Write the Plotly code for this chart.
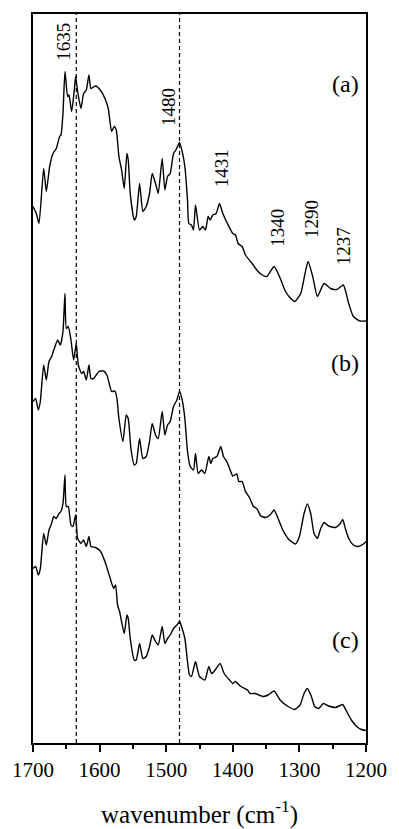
import plotly.graph_objects as go

# FTIR absorbance spectra, stacked with vertical offsets (a.u.)
wn_a = [1700, 1695, 1691, 1684, 1680, 1675, 1670, 1665, 1660, 1658, 1655, 1652, 1648, 1646,
        1642, 1638, 1636, 1633, 1628, 1624, 1620, 1616, 1613, 1606, 1599, 1592, 1587, 1582,
        1578, 1575, 1571, 1567, 1563, 1559, 1557, 1554, 1548, 1545, 1540, 1535, 1530, 1525,
        1521, 1516, 1512, 1506, 1502, 1498, 1494, 1489, 1485, 1480, 1476, 1472, 1468, 1466,
        1462, 1459, 1456, 1450, 1445, 1441, 1437, 1434, 1430, 1425, 1420, 1415, 1408, 1400,
        1396, 1392, 1386, 1381, 1371, 1364, 1356, 1349, 1338, 1329, 1322, 1315, 1307, 1298,
        1292, 1287, 1280, 1273, 1263, 1253, 1244, 1234, 1226, 1219, 1209, 1200]
abs_a = [1.073, 1.059, 1.039, 1.149, 1.103, 1.153, 1.179, 1.189, 1.213, 1.216, 1.259, 1.343,
         1.293, 1.296, 1.263, 1.306, 1.333, 1.303, 1.269, 1.299, 1.306, 1.336, 1.309, 1.314,
         1.306, 1.289, 1.269, 1.223, 1.233, 1.226, 1.173, 1.146, 1.109, 1.179, 1.166, 1.099,
         1.046, 1.053, 1.119, 1.063, 1.073, 1.099, 1.139, 1.119, 1.099, 1.169, 1.106, 1.133,
         1.139, 1.179, 1.187, 1.201, 1.183, 1.153, 1.086, 1.039, 1.036, 1.026, 1.076, 1.026,
         1.033, 1.026, 1.053, 1.046, 1.056, 1.059, 1.079, 1.059, 1.039, 1.019, 1.016, 0.999,
         0.993, 0.976, 0.959, 0.946, 0.936, 0.933, 0.953, 0.930, 0.906, 0.892, 0.883, 0.899,
         0.936, 0.963, 0.933, 0.893, 0.919, 0.909, 0.907, 0.916, 0.879, 0.853, 0.844, 0.844]

wn_b = [1700, 1696, 1692, 1689, 1684, 1680, 1676, 1672, 1668, 1663, 1659, 1655, 1652, 1650,
        1647, 1643, 1639, 1635, 1632, 1627, 1624, 1620, 1616, 1613, 1609, 1601, 1594, 1589,
        1582, 1577, 1574, 1571, 1565, 1560, 1557, 1553, 1548, 1545, 1540, 1535, 1530, 1525,
        1521, 1516, 1512, 1506, 1502, 1498, 1494, 1489, 1484, 1480, 1476, 1472, 1468, 1464,
        1459, 1456, 1452, 1447, 1442, 1436, 1433, 1430, 1424, 1418, 1414, 1409, 1404, 1400,
        1394, 1391, 1386, 1381, 1375, 1369, 1364, 1358, 1351, 1344, 1338, 1332, 1325, 1315,
        1306, 1300, 1293, 1288, 1283, 1278, 1273, 1268, 1263, 1256, 1246, 1239, 1235, 1231,
        1226, 1219, 1212, 1204, 1200]
abs_b = [0.683, 0.689, 0.666, 0.683, 0.756, 0.726, 0.763, 0.773, 0.789, 0.806, 0.796, 0.823,
         0.899, 0.829, 0.833, 0.806, 0.766, 0.799, 0.756, 0.739, 0.743, 0.726, 0.756, 0.729,
         0.729, 0.743, 0.744, 0.736, 0.703, 0.704, 0.689, 0.649, 0.603, 0.656, 0.649, 0.589,
         0.556, 0.559, 0.609, 0.569, 0.573, 0.603, 0.639, 0.616, 0.609, 0.663, 0.616, 0.636,
         0.643, 0.673, 0.686, 0.703, 0.686, 0.649, 0.583, 0.553, 0.546, 0.579, 0.539, 0.546,
         0.539, 0.573, 0.559, 0.569, 0.573, 0.593, 0.573, 0.563, 0.546, 0.534, 0.538, 0.523,
         0.523, 0.503, 0.491, 0.473, 0.469, 0.454, 0.451, 0.456, 0.466, 0.449, 0.426, 0.406,
         0.398, 0.413, 0.459, 0.478, 0.459, 0.419, 0.409, 0.429, 0.441, 0.434, 0.431, 0.438,
         0.447, 0.429, 0.409, 0.396, 0.393, 0.398, 0.403]

wn_c = [1700, 1696, 1692, 1689, 1684, 1680, 1676, 1672, 1669, 1665, 1661, 1658, 1655, 1652,
        1650, 1647, 1643, 1640, 1636, 1633, 1628, 1624, 1620, 1616, 1613, 1606, 1599, 1592,
        1584, 1579, 1576, 1573, 1570, 1563, 1559, 1557, 1554, 1548, 1545, 1540, 1535, 1530,
        1525, 1521, 1516, 1512, 1506, 1502, 1498, 1494, 1489, 1484, 1480, 1476, 1472, 1468,
        1465, 1462, 1456, 1450, 1442, 1436, 1432, 1428, 1419, 1413, 1405, 1400, 1396, 1388,
        1378, 1374, 1366, 1361, 1354, 1347, 1338, 1329, 1317, 1307, 1299, 1293, 1288, 1282,
        1277, 1271, 1264, 1256, 1246, 1239, 1235, 1229, 1222, 1214, 1207, 1200]
abs_c = [0.349, 0.353, 0.336, 0.349, 0.419, 0.396, 0.426, 0.439, 0.453, 0.449, 0.459, 0.463,
         0.479, 0.536, 0.473, 0.473, 0.436, 0.433, 0.456, 0.409, 0.399, 0.406, 0.393, 0.413,
         0.393, 0.391, 0.384, 0.363, 0.329, 0.309, 0.316, 0.276, 0.263, 0.219, 0.256, 0.249,
         0.209, 0.166, 0.166, 0.199, 0.169, 0.173, 0.193, 0.216, 0.203, 0.196, 0.233, 0.199,
         0.209, 0.216, 0.229, 0.236, 0.243, 0.229, 0.209, 0.163, 0.136, 0.133, 0.163, 0.133,
         0.126, 0.153, 0.139, 0.143, 0.159, 0.139, 0.126, 0.119, 0.123, 0.113, 0.106, 0.099,
         0.099, 0.096, 0.093, 0.096, 0.104, 0.086, 0.073, 0.067, 0.076, 0.099, 0.109, 0.093,
         0.073, 0.069, 0.079, 0.074, 0.071, 0.075, 0.077, 0.063, 0.046, 0.033, 0.027, 0.025]

sample_labels = ["(a)", "(b)", "(c)"]
label_y = [1.318, 0.760, 0.206]
marker_bands = [1635, 1480]
band_labels = [1635, 1480, 1431, 1340, 1290, 1237]
band_label_y = [1.403, 1.271, 1.150, 1.030, 1.048, 0.994]
band_label_shift = [-13, -11, 9, 4, 5, 2]

x_ticks = [1700, 1600, 1500, 1400, 1300, 1200]

SERIF = "Liberation Serif, Times New Roman, serif"

fig = go.Figure()
for wn, ab in [(wn_a, abs_a), (wn_b, abs_b), (wn_c, abs_c)]:
    fig.add_trace(go.Scatter(
        x=wn, y=ab, mode="lines",
        line=dict(color="black", width=1.4, shape="spline", smoothing=0.5),
        showlegend=False, hoverinfo="skip"))

# dashed guides at the marker bands
for b in marker_bands:
    fig.add_shape(type="line", xref="x", yref="paper", x0=b, x1=b, y0=0, y1=1,
                  line=dict(color="black", width=1.2, dash="4px,3px"))

# rotated band assignments
for b, yv, dx in zip(band_labels, band_label_y, band_label_shift):
    fig.add_annotation(x=b, y=yv, xref="x", yref="y", text=str(b), showarrow=False,
                       textangle=-90, xshift=dx, xanchor="center", yanchor="middle",
                       font=dict(family=SERIF, size=19, color="black"))

# sample labels
for lab, yv in zip(sample_labels, label_y):
    fig.add_annotation(x=1231, y=yv, xref="x", yref="y", text=lab, showarrow=False,
                       xanchor="center", yanchor="middle",
                       font=dict(family=SERIF, size=24, color="black"))

# axis title
fig.add_annotation(x=0.5, y=-0.095, xref="paper", yref="paper",
                   text="wavenumber (cm<sup>-1</sup>)", showarrow=False,
                   xanchor="center", yanchor="middle",
                   font=dict(family=SERIF, size=25, color="black"))

fig.update_xaxes(range=[1700, 1200], tickvals=x_ticks, ticks="outside", ticklen=7,
                 tickwidth=1.5, tickcolor="black",
                 minor=dict(dtick=50, ticks="outside", ticklen=4, tickwidth=1.5, tickcolor="black"),
                 showline=True, linewidth=2, linecolor="black", mirror=True,
                 showgrid=False, zeroline=False,
                 tickfont=dict(family=SERIF, size=21, color="black"))
fig.update_yaxes(range=[0, 1.458], showticklabels=False, ticks="", showline=True,
                 linewidth=2, linecolor="black", mirror=True, showgrid=False, zeroline=False)

fig.update_layout(width=399, height=829, margin=dict(l=33, r=26, t=14, b=86),
                  plot_bgcolor="white", paper_bgcolor="white")

fig.write_html("out.html")
